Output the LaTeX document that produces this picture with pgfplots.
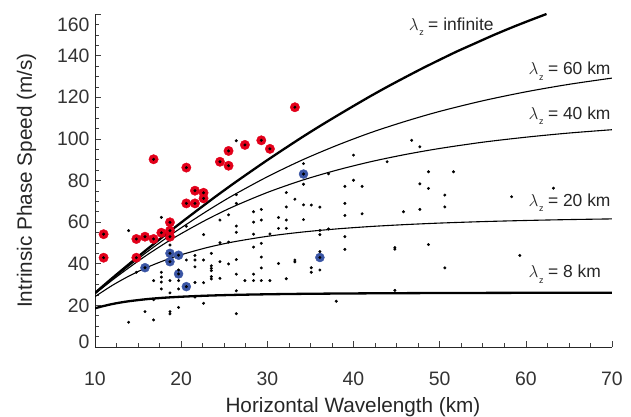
\documentclass[border=0pt]{standalone}
\usepackage{pgfplots}
\pgfplotsset{compat=1.18}
\usepackage{fontspec}
\setmainfont{Liberation Sans}
\definecolor{redc}{HTML}{E2001A}
\definecolor{bluec}{HTML}{3A55A4}
\newcommand{\lz}{$\lambda$\hspace{0.6pt}\raisebox{-5.5pt}{\fontsize{9}{9}\selectfont z}\hspace{4.5pt}}
\begin{document}
\begin{tikzpicture}
\useasboundingbox (0,0) rectangle (631bp,417bp);
\begin{axis}[
 at={(95bp,70bp)}, anchor=south west,
 scale only axis, width=517bp, height=333bp,
 xmin=10, xmax=70, ymin=0, ymax=160,
 axis x line*=bottom, axis y line*=left,
 axis line style={-, black!85, line width=0.8bp},
 tick align=inside,
 xtick={10,20,...,70}, ytick={0,20,...,160},
 minor x tick num=3, minor y tick num=3,
 major tick length=6bp, minor tick length=3.5bp,
 tick style={black!75, line width=0.6bp},
 /pgf/number format/assume math mode=true,
 tick label style={font=\fontsize{19.5}{21}\selectfont, text=black!80},
 xticklabel style={yshift=-21bp},
 yticklabel style={xshift=-2bp},
 yticklabels={\raisebox{5bp}[\height][\depth]{0},20,40,60,80,100,120,140,\raisebox{-10.5bp}[\height][\depth]{160}},
 xlabel={Horizontal Wavelength (km)},
 ylabel={Intrinsic Phase Speed (m/s)},
 label style={font=\fontsize{20.8}{22}\selectfont, text=black!85},
 xlabel style={at={(axis description cs:0.499,-0.197)}, anchor=base},
 ylabel style={at={(axis description cs:-0.1219,0.5)}, anchor=base},
]
% lambda_z = infinite
\addplot[black, line width=2.3bp, smooth] coordinates {
(10,26.0) (12,33.1) (14,40.0) (16,46.8) (18,53.4) (20,59.8) (22,66.1) (24,72.3) (26,78.3) (28,84.1) (30,89.8) (32,95.3) (34,100.7) (36,105.9) (38,110.9) (40,115.8) (42,120.6) (44,125.2) (46,129.6) (48,133.9) (50,138.0) (52,142.0) (54,145.7) (56,149.4) (58,152.9) (60,156.2) (62.4,160.0)};
% lambda_z = 60 km
\addplot[black, line width=1.1bp, smooth] coordinates {
(10,25.78) (12,32.65) (14,39.21) (16,45.54) (18,51.56) (20,57.25) (23,65.33) (26,72.82) (30,81.79) (34,89.76) (38,96.76) (42,103.0) (46,108.4) (50,113.2) (55,118.3) (60,122.6) (65,126.2) (70,129.2)};
% lambda_z = 40 km
\addplot[black, line width=1.1bp, smooth] coordinates {
(10,25.51) (12,32.11) (14,38.28) (16,44.11) (18,49.50) (20,54.47) (23,61.29) (26,67.34) (30,74.25) (34,80.06) (38,84.91) (42,89.03) (46,92.48) (50,95.39) (55,98.40) (60,100.8) (65,102.8) (70,104.4)};
% lambda_z = 20 km
\addplot[black, line width=1.1bp, smooth] coordinates {
(10,24.19) (12,29.59) (14,34.21) (16,38.18) (18,41.51) (20,44.32) (23,47.76) (26,50.46) (30,53.18) (34,55.20) (38,56.72) (42,57.90) (46,58.81) (50,59.54) (55,60.25) (60,60.79) (65,61.22) (70,61.55)};
% lambda_z = 8 km
\addplot[black, line width=2.3bp, smooth] coordinates {
(10,18.6) (11,19.69) (12,20.64) (13,21.40) (14,22.03) (16,22.99) (18,23.67) (20,24.15) (23,24.67) (26,25.02) (30,25.33) (34,25.54) (38,25.68) (42,25.79) (46,25.87) (50,25.93) (55,25.99) (60,26.03) (65,26.06) (70,26.09)};
% red events
\addplot[only marks, mark=*, mark size=4.7bp, mark options={fill=redc, draw=redc}] coordinates {
(11.0,54.2) (11.0,42.9) (14.8,51.9) (14.8,42.9) (15.8,53.0) (16.8,51.9) (17.7,54.9) (18.7,59.9) (18.7,55.9) (18.7,53.0) (16.8,90.2) (20.6,86.2) (21.6,75.1) (20.6,69.0) (21.6,69.0) (22.6,74.1) (22.6,71.4) (24.5,89.0) (25.5,94.2) (25.5,87.1) (27.4,97.1) (29.3,99.3) (30.3,95.2) (33.2,115.2)};
% blue events
\addplot[only marks, mark=*, mark size=4.5bp, mark options={fill=bluec, draw=bluec}] coordinates {
(15.8,38.1) (18.7,45.0) (19.7,44.1) (18.7,41.0) (19.7,35.1) (20.6,29.0) (34.2,83.1) (36.1,43.0)};
% all events (black dots)
\addplot[only marks, mark=*, mark size=1.3bp, mark options={fill=black, draw=black}] coordinates {
(11.0,54.2) (11.0,42.9) (14.8,51.9) (14.8,42.9) (15.8,53.0) (16.8,51.9) (17.7,54.9) (18.7,59.9) (18.7,55.9) (18.7,53.0) (16.8,90.2) (20.6,86.2) (21.6,75.1) (20.6,69.0) (21.6,69.0) (22.6,74.1) (22.6,71.4) (24.5,89.0) (25.5,94.2) (25.5,87.1) (27.4,97.1) (29.3,99.3) (30.3,95.2) (33.2,115.2)
(15.8,38.1) (18.7,45.0) (19.7,44.1) (18.7,41.0) (19.7,35.1) (20.6,29.0) (34.2,83.1) (36.1,43.0)
(13.9,55.9) (13.9,11.9) (14.8,35.9) (15.8,17.0) (16.8,31.9) (16.8,22.7) (16.8,13.0)
(17.7,62.3) (17.7,35.9) (17.7,33.6) (17.7,31.2) (17.7,27.9)
(18.7,49.0) (18.7,31.9) (18.7,26.0) (18.7,17.0) (18.7,15.9)
(19.7,37.0) (19.7,31.9) (19.7,27.9) (19.7,19.0)
(20.6,58.0) (20.6,41.8)
(21.6,44.0) (21.6,41.8) (21.6,38.5) (21.6,31.0) (21.6,24.0)
(22.6,54.0) (22.6,41.8) (22.6,30.9) (22.6,21.0)
(23.5,45.0) (23.5,39.0) (23.5,37.8) (23.5,36.7) (23.5,33.8) (23.5,32.7)
(24.5,61.0) (24.5,50.1) (24.5,41.0) (24.5,33.0)
(25.5,63.5) (25.5,50.4) (25.5,39.9)
(26.4,99.1) (26.4,73.2) (26.4,69.0) (26.4,58.1) (26.4,55.1) (26.4,42.0) (26.4,35.0) (26.4,27.0) (26.4,16.0)
(27.4,31.9)
(28.4,65.0) (28.4,60.0) (28.4,54.2) (28.4,48.0) (28.4,35.0) (28.4,31.9)
(29.3,66.1) (29.3,61.0) (29.3,49.8) (29.3,43.2) (29.3,38.0) (29.3,31.9)
(30.3,54.3) (30.3,31.9)
(31.3,62.2) (31.3,57.0) (31.3,40.1)
(32.2,74.2) (32.2,67.3) (32.2,61.0) (32.2,57.0) (32.2,32.8)
(33.2,71.0) (33.2,41.8) (33.2,40.9)
(34.2,88.1) (34.2,78.2) (34.2,68.3) (34.2,61.2)
(35.1,68.2) (35.1,38.1) (35.1,35.9)
(36.1,67.2) (36.1,56.0) (36.1,54.0) (36.1,45.8) (36.1,37.0)
(37.1,83.2) (37.1,56.7)
(38.0,22.0)
(39.0,77.2) (39.0,69.0) (39.0,63.2) (39.0,53.0) (39.0,46.9)
(40.0,92.2) (40.0,80.1)
(41.0,77.2) (41.0,64.0)
(43.9,89.0)
(44.8,47.8) (44.8,47.0) (44.8,27.2)
(45.8,65.0)
(46.75,99.3)
(47.7,96.2) (47.7,78.4) (47.7,66.1)
(48.7,84.2) (48.7,76.2) (48.7,49.2)
(50.6,73.0) (50.6,67.3) (50.6,38.0)
(51.6,84.2)
(58.35,72.2)
(59.3,44.0)
(63.2,76.3)};
\tikzset{lzlab/.style={anchor=base west, inner sep=0pt, font=\fontsize{17.5}{19}\selectfont, text=black!85}}
\node[lzlab] at (axis cs:46.4,152.3) {\lz= infinite};
\node[lzlab] at (axis cs:60.3,130.9) {\lz= 60 km};
\node[lzlab] at (axis cs:60.3,109.3) {\lz= 40 km};
\node[lzlab] at (axis cs:60.3,67.7) {\lz= 20 km};
\node[lzlab] at (axis cs:60.3,33.2) {\lz= 8 km};
\end{axis}
\end{tikzpicture}
\end{document}
